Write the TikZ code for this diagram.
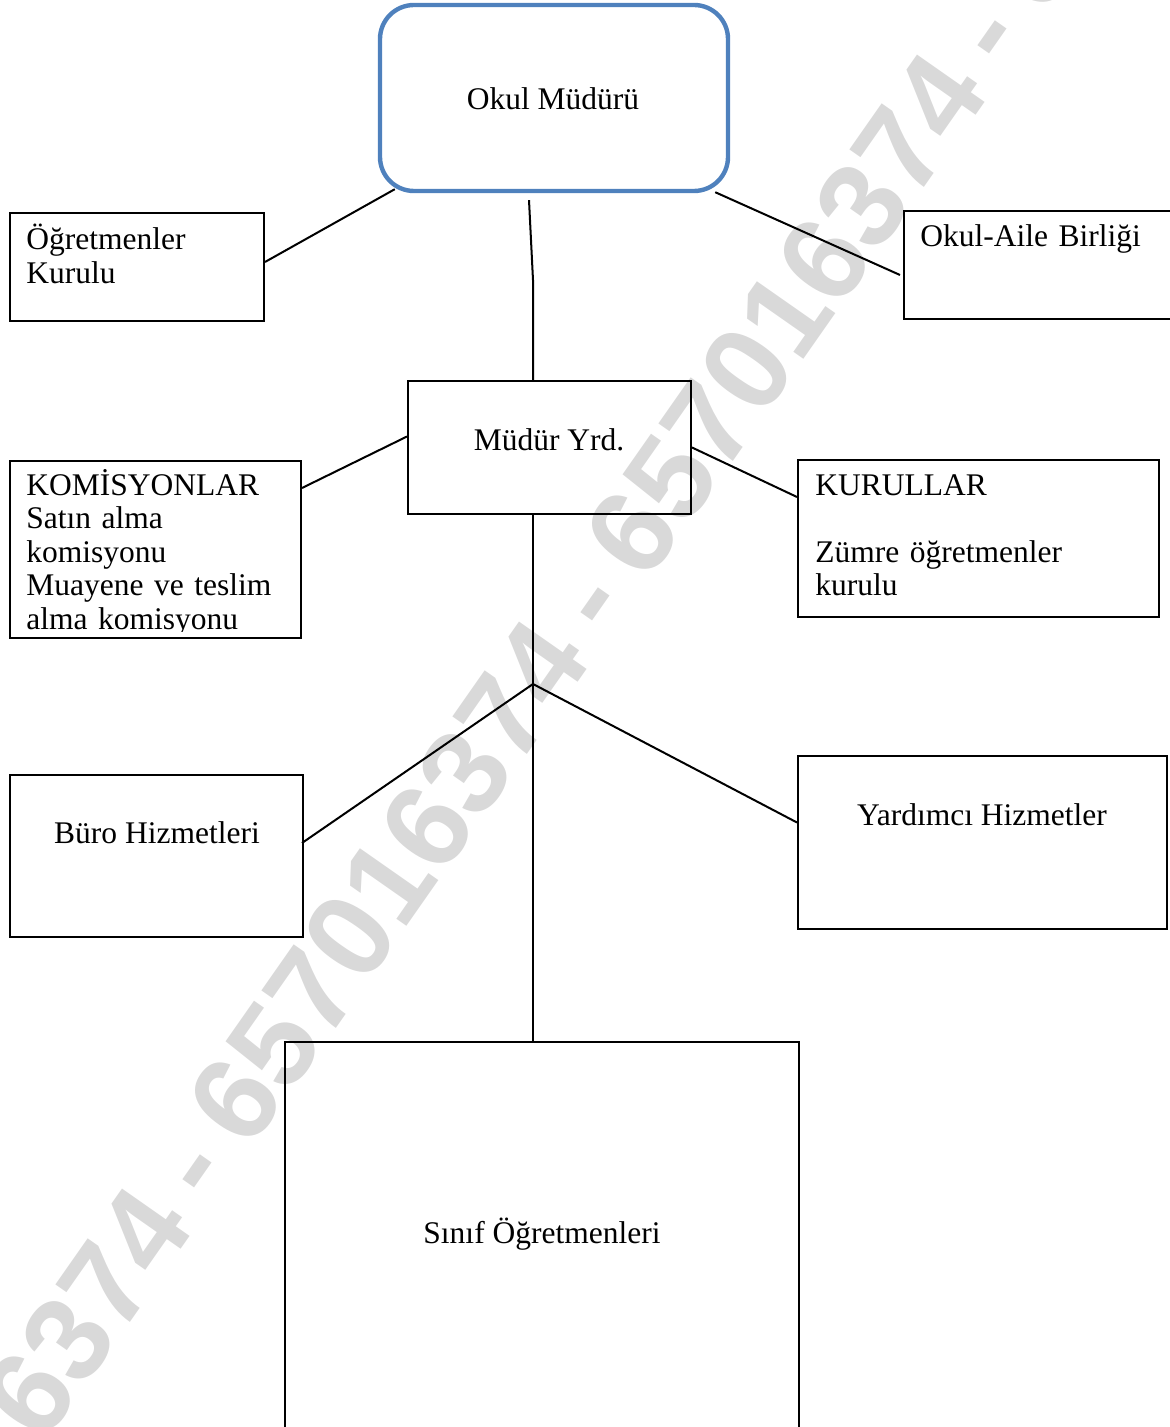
\documentclass[tikz,border=0pt]{standalone}
\usepackage{fontspec}
\setmainfont{Liberation Serif}
\newfontfamily\wmfont{Liberation Sans}[WordSpace=0.78]
\usetikzlibrary{positioning, fit}
\definecolor{mdblue}{RGB}{79,129,189}
\definecolor{wmgray}{RGB}{217,217,217}

\tikzset{
  box/.style={draw, line width=1pt, inner sep=0pt},
  head/.style={box, draw=mdblue, line width=2.2pt, rounded corners=17pt},
  txt/.style={inner sep=0pt, font=\fontsize{15.75}{16.75}\selectfont},
  ltxt/.style={txt, anchor=base west, text width=150pt, align=left},
  link/.style={line width=1pt},
}

\begin{document}
\begin{tikzpicture}[x=0.5pt, y=-0.5pt]
    \useasboundingbox (0,0) rectangle (1170,1427);
    % watermark
    \begin{scope}
      \clip (0,0) rectangle (1170,1427);
      \node[text=wmgray, font=\wmfont\bfseries\fontsize{60}{60}\selectfont, rotate=55] (wm) at (587,598)
        {657016374 - 657016374 - 657016374 - 657016374};
    \end{scope}
    % boxes
    \node[head, fit={(380,5) (728,191)}] (mudur) {};
    \node[box, fit={(10,213) (264,321)}] (ogretmen) {};
    \node[box, fit={(904,211) (1180,319)}] (aile) {};
    \node[box, fit={(408,381) (691,514)}] (yrd) {};
    \node[box, fit={(10,461) (301,638)}] (komisyon) {};
    \node[box, fit={(798,460) (1159,617)}] (kurul) {};
    \node[box, fit={(10,775) (303,937)}] (buro) {};
    \node[box, fit={(798,756) (1167,929)}] (yardimci) {};
    \node[box, fit={(285,1042) (799,1440)}] (sinif) {};
    % texts
    \node[txt] (mudurtxt) at (553,99) {Okul Müdürü};
    \node[txt] (yrdtxt) at (549,440) {Müdür Yrd.};
    \node[txt] (burotxt) at (157,833) {Büro Hizmetleri};
    \node[txt] (yardimcitxt) at (982,815) {Yardımcı Hizmetler};
    \node[txt] (siniftxt) at (542,1234) {Sınıf Öğretmenleri};
    \node[ltxt] (ogretmentxt) at (26,250) {Öğretmenler\\Kurulu};
    \node[ltxt] (ailetxt) at (920,247) {Okul-Aile Birliği};
    \node[ltxt] (kurultxt) at (815,495) {KURULLAR\\[16.75pt]Zümre öğretmenler\\kurulu};
    \begin{scope}
      \clip (10,461) rectangle (301,631);
      \node[ltxt] (komisyontxt) at (26,495)
        {KOMİSYONLAR\\Satın alma\\komisyonu\\Muayene ve teslim\\alma komisyonu};
    \end{scope}
    % connectors
    \coordinate (hub) at (533,684);
    \draw[link] ([shift={(17,-4)}]mudur.south west) -- ([shift={(0,-5)}]ogretmen.east);
    \draw[link] ([shift={(-15,-1)}]mudur.south east) -- ([shift={(-3,10)}]aile.west);
    \draw[link] ([shift={(-25,7)}]mudur.south) -- ++(4,80) -- (yrd.north -| hub);
    \draw[link] ([shift={(0,-11)}]yrd.west) -- ([shift={(0,28)}]komisyon.north east);
    \draw[link] (yrd.east) -- ([shift={(0,38)}]kurul.north west);
    \draw[link] (yrd.south -| hub) -- (sinif.north -| hub);
    \draw[link] (hub) -- ([shift={(-2,-13)}]buro.east);
    \draw[link] (hub) -- ([shift={(0,-20)}]yardimci.west);
\end{tikzpicture}
\end{document}
